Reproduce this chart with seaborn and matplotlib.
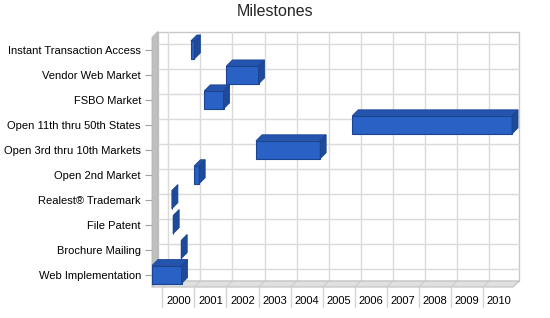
import matplotlib
matplotlib.use("Agg")
import matplotlib.pyplot as plt
import matplotlib.transforms as mtrans
from matplotlib.patches import Polygon
import seaborn as sns
import pandas as pd

# ---- data ----
tasks = ["Instant Transaction Access", "Vendor Web Market", "FSBO Market",
         "Open 11th thru 50th States", "Open 3rd thru 10th Markets",
         "Open 2nd Market", "Realest® Trademark", "File Patent",
         "Brochure Mailing", "Web Implementation"]
starts = [2000.89, 2002.0, 2001.31, 2005.92, 2002.92,
          2001.0, 2000.30, 2000.34, 2000.59, 1999.68]
durations = [0.11, 1.0, 0.60, 4.98, 2.0,
             0.15, 0.0, 0.0, 0.0, 0.92]
years = [2000, 2001, 2002, 2003, 2004, 2005, 2006, 2007, 2008, 2009, 2010]
year_labels = ["2000", "2001", "2002", "2003", "2004", "2005",
               "2006", "2007", "2008", "2009", "2010"]

FRONT = "#2962C4"
TOP = "#2454AE"
SIDE = "#1E4A98"
EDGE = "#1A4493"

sns.set_style("white")
plt.rcParams['font.family'] = ['Liberation Sans', 'DejaVu Sans']

fig = plt.figure(figsize=(5.5, 3.18), dpi=100)
ax = fig.add_axes([152/550, 1-287/318, 361/550, 249.5/318])
ax.set_facecolor("none")

df = pd.DataFrame({"task": tasks, "start": starts, "duration": durations})
sns.barplot(data=df, x="duration", y="task", left=df["start"].values,
            width=0.72, color=FRONT, saturation=1, edgecolor=EDGE,
            linewidth=0.8, errorbar=None, ax=ax, zorder=5)

xmin, xmax = 1999.68, 2010.93
n = len(tasks)
ax.set_xlim(xmin, xmax)
ax.set_ylim(n - 0.5, -0.5)
for s in ax.spines.values():
    s.set_visible(False)

# depth offset (6 px) in data units
dx = 6 * (xmax - xmin) / 361.0
dy = 6 * n / 249.5

bars = list(ax.patches)
for p in bars:
    p.set_clip_on(False)
    x0, w, y0, h = p.get_x(), p.get_width(), p.get_y(), p.get_height()
    top = Polygon([(x0, y0), (x0 + w, y0), (x0 + w + dx, y0 - dy), (x0 + dx, y0 - dy)],
                  closed=True, facecolor=TOP, edgecolor=EDGE, linewidth=0.6,
                  zorder=5, clip_on=False)
    side = Polygon([(x0 + w, y0), (x0 + w + dx, y0 - dy), (x0 + w + dx, y0 + h - dy),
                    (x0 + w, y0 + h)], closed=True, facecolor=SIDE, edgecolor=EDGE,
                   linewidth=0.6, zorder=5, clip_on=False)
    ax.add_patch(top)
    ax.add_patch(side)

ytop, ybot = -0.5, n - 0.5
# back wall
ax.add_patch(Polygon([(xmin + dx, ytop - dy), (xmax + dx, ytop - dy),
                      (xmax + dx, ybot - dy), (xmin + dx, ybot - dy)], closed=True,
                     facecolor="white", edgecolor="#C8C8C8", linewidth=1.0,
                     zorder=0, clip_on=False))
for yr in years:
    ax.plot([yr + dx, yr + dx], [ytop - dy, ybot - dy], color="#DADADA", lw=1.0,
            zorder=1, clip_on=False)
for i in range(n):
    ax.plot([xmin + dx, xmax + dx], [i - dy, i - dy], color="#DADADA", lw=1.0,
            zorder=1, clip_on=False)
# left wall
ax.add_patch(Polygon([(xmin, ytop), (xmin + dx, ytop - dy), (xmin + dx, ybot - dy),
                      (xmin, ybot)], closed=True, facecolor="#C0C0C0",
                     edgecolor="#B4B4B4", linewidth=0.6, zorder=2, clip_on=False))
# floor
ax.add_patch(Polygon([(xmin, ybot), (xmax, ybot), (xmax + dx, ybot - dy),
                      (xmin + dx, ybot - dy)], closed=True, facecolor="#E0E0E0",
                     edgecolor="#BEBEBE", linewidth=0.8, zorder=2, clip_on=False))
for yr in years:
    ax.plot([yr, yr + dx], [ybot, ybot - dy], color="#C8C8C8", lw=0.6,
            zorder=3, clip_on=False)

# x label separators
btrans = mtrans.blended_transform_factory(ax.transData, ax.transAxes)
for yr in years:
    ax.plot([yr, yr], [0, -0.08], color="#D4D4D4", lw=1.0, transform=btrans,
            clip_on=False, zorder=3)

ax.set_xticks([y + 0.5 for y in years])
ax.set_xticklabels(year_labels)
ax.tick_params(axis="x", length=0, pad=6.5, labelsize=8, colors="black")
ax.tick_params(axis="y", length=5, width=0.8, color="#A0A0A0", pad=3,
               labelsize=8, labelcolor="black", left=True)
ax.set_xlabel("")
ax.set_ylabel("")
ax.grid(False)

fig.text(0.5, 1 - 12/318, "Milestones", ha="center", va="center", fontsize=11.5)

fig.savefig("out.png", dpi=100, facecolor="white")
